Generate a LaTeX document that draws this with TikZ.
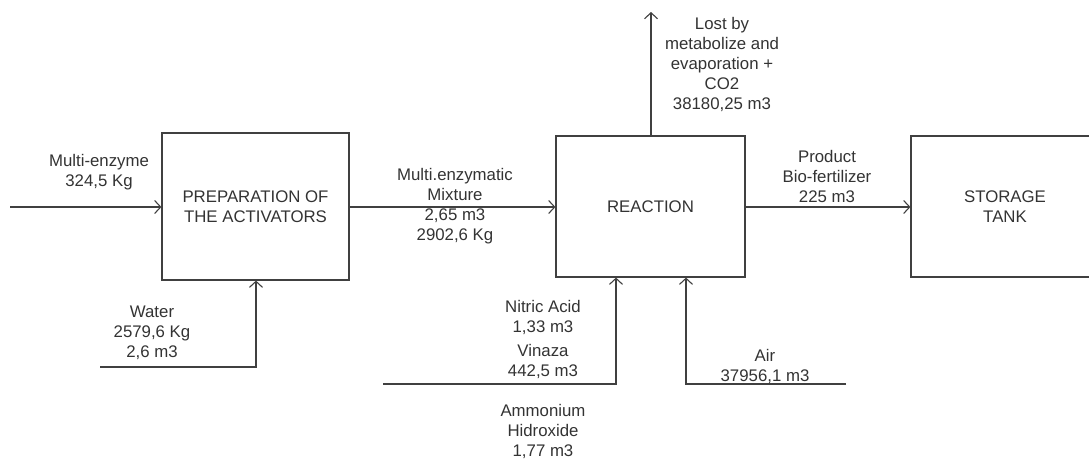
\documentclass[tikz,border=0pt]{standalone}
\usepackage{fontspec}
\setmainfont{Liberation Sans}
\usetikzlibrary{arrows.meta}
\definecolor{ink}{HTML}{404040}
\definecolor{txt}{HTML}{333333}
\begin{document}
\begin{tikzpicture}[x=1pt,y=-1pt,
  every node/.style={font=\fontsize{16.8}{20}\selectfont, text=txt},
  boxnode/.style={draw=ink, line width=1.2pt, inner sep=0pt, align=center},
  lbl/.style={align=center, inner sep=0pt},
  flow/.style={draw=ink, line width=1.2pt, -{Straight Barb[length=6pt,width=13pt,line width=1.1pt]}},
  plain/.style={draw=ink, line width=1.2pt}]
\useasboundingbox (0,0) rectangle (1089,459);
\begin{scope}
\clip (0,0) rectangle (1089,459);
\node[boxnode, minimum width=187pt, minimum height=147pt] (p1) at (255.5,206.5) {PREPARATION OF\\THE ACTIVATORS};
\node[boxnode, minimum width=189pt, minimum height=141pt] (r) at (650.5,206.5) {REACTION};
\node[boxnode, minimum width=188pt, minimum height=141pt] (s) at (1005,206.5) {STORAGE\\TANK};
\end{scope}

% coordinates for free ends
\coordinate (in1) at (10,207);
\coordinate (w0) at (100,367);
\coordinate (w1) at (256,367);
\coordinate (top) at (651,12);
\coordinate (n0) at (383,384);
\coordinate (n1) at (616,384);
\coordinate (a0) at (846,384);
\coordinate (a1) at (686,384);

% connectors
\draw[flow] (in1) -- (in1 -| p1.west);
\draw[flow] (w0) -- (w1) -- (w1 |- p1.south);
\draw[flow] (p1.east |- in1) -- (r.west |- in1);
\draw[flow] (top |- r.north) -- (top);
\draw[flow] (n0) -- (n1) -- (n1 |- r.south);
\draw[flow] (a0) -- (a1) -- (a1 |- r.south);
\draw[flow] (r.east |- in1) -- (s.west |- in1);

% labels
\node[lbl] (lme) at (99,172) {Multi-enzyme\\324,5 Kg};
\node[lbl] (lw) at (152,333) {Water\\2579,6 Kg\\2,6 m3};
\node[lbl] (lmix) at (455,206) {Multi.enzymatic\\Mixture\\2,65 m3\\2902,6 Kg};
\node[lbl] (llost) at (722,64) {Lost by\\metabolize and\\evaporation +\\CO2\\38180,25 m3};
\node[lbl] (lna) at (543,317) {Nitric Acid\\1,33 m3};
\node[lbl] (lvi) at (543,361) {Vinaza\\442,5 m3};
\node[lbl] (lam) at (543,431) {Ammonium\\Hidroxide\\1,77 m3};
\node[lbl] (lair) at (765,366) {Air\\37956,1 m3};
\node[lbl] (lprod) at (827,176) {Product\\Bio-fertilizer\\225 m3};
\end{tikzpicture}
\end{document}
